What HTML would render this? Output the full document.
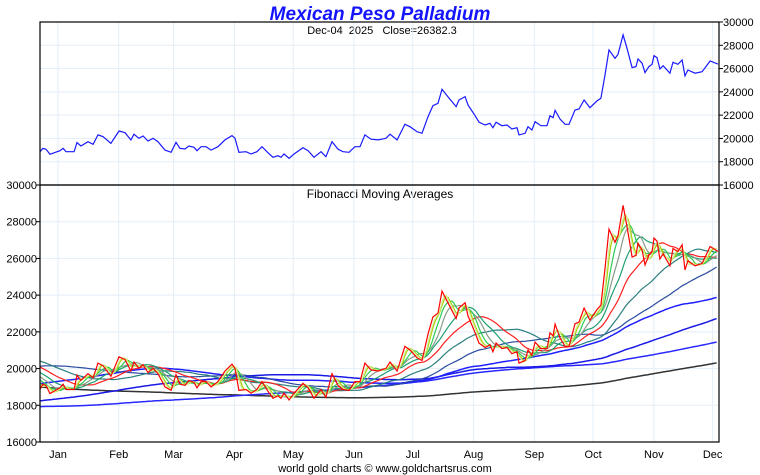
<!DOCTYPE html>
<html><head><meta charset="utf-8"><style>
html,body{margin:0;padding:0;background:#fff;}
svg{display:block;font-family:"Liberation Sans",sans-serif;}
</style></head><body>
<svg id="chart" width="760" height="475" viewBox="0 0 760 475">
<text x="380" y="20" text-anchor="middle" font-size="19" font-weight="bold" font-style="italic" fill="#1414ff">Mexican Peso Palladium</text>
<text x="382" y="34" text-anchor="middle" font-size="11" fill="#000" xml:space="preserve">Dec-04  2025   Close=26382.3</text>
<text x="380" y="198" text-anchor="middle" font-size="12" fill="#000">Fibonacci Moving Averages</text>
<text x="385" y="472" text-anchor="middle" font-size="11" fill="#000">world gold charts © www.goldchartsrus.com</text>
<g id="grid"></g>
<defs>
<clipPath id="clipTop"><rect x="40" y="22" width="679" height="163"/></clipPath>
<clipPath id="clipBot"><rect x="40" y="185" width="679" height="257"/></clipPath>
</defs>
<g id="marks"></g>
<g id="axes"></g>
</svg>
<script>
// Data: day offset from Jan 1 2025, and closes (MXN/oz). Negative days before -9.2 = history.
const days = [-560,-500,-440,-380,-340,-300,-270,-240,-210,-180,-150,-120,-90,-75,-60,-45,-30,-20,-12,
-9.2,-7.7,-6.1,-4.1,-1.5,1,2.6,4.1,8.2,9.7,11.7,15.3,17.9,20.4,23,27,31.1,34.2,37.2,38.8,41.3,43.4,45.9,48.5,51,54.6,57.7,60.2,62.2,64.8,66.8,69.4,70.9,73,75.5,78.1,81.6,85.2,88.8,90.3,92.3,95.9,98.5,101.5,104.1,107.1,109.7,112.2,113.8,115.3,117.9,120.4,125,127.6,130.6,134.2,136.7,139.8,142.9,145.4,148.5,151.5,154.1,156.6,159.7,163.3,167.3,169.4,173,177,179.6,183.2,185.7,188.8,191.3,193.9,195.9,198.5,203.1,204.6,207.7,209.2,212.8,214.8,217.9,220.4,221.9,223.5,226.5,229.1,231.6,234.2,235.2,238.3,239.8,241.8,243.4,246.4,249.5,251,252.6,253.6,256.1,258.7,260.7,263.8,265.8,268.4,271.4,275,277,279.1,281.1,284.2,285.7,288.3,290.3,292.9,294.9,295.9,298,299.5,301.5,303.1,304.1,305.6,307.1,308.7,312.2,313.8,316.3,318.4,319.9,321.4,325,328.6,332.7,336.7];
const closes = [23000,22000,21000,19500,18500,17800,17500,16800,16500,16500,17000,17300,18200,19200,20800,21000,20500,20000,19500,
18860,19150,19070,18640,18800,18950,19150,18860,18860,19640,19350,19720,19500,20300,20150,19580,20640,20490,19870,20360,20010,20210,19780,20010,19720,19000,18810,19670,19150,19090,19350,19240,18950,19290,19290,19000,19290,19870,20240,20010,18810,18860,18660,18860,19290,18770,18380,18520,18380,18660,18290,18660,19200,18950,18380,18860,18430,19720,19070,18860,18810,19290,19290,20300,19930,19870,20010,20360,19870,21210,21010,20580,20440,21870,22810,23020,24220,23670,22730,23300,23590,22870,21950,21390,21150,21300,20920,21390,21090,21150,20810,20920,20300,20440,21010,20720,21440,21090,21090,21950,21780,22420,21670,21210,21210,22440,22530,23300,22640,23220,23450,25450,27600,26880,27230,28890,27740,26080,26170,26830,26460,25650,26170,26370,27110,26940,25970,26250,25600,26540,26370,26740,25370,25880,25600,25730,26650,26382];
const maPeriods = [2,3,5,8,13,21,34,55,89,144,233,377];
const maColors = ["#d2f09a","#a8cc00","#2ecc55","#8a9a8a","#1f9f70","#ff2020","#2a7f7f","#2a4ca0","#2020ff","#1a1ae8","#2828ff","#333333"];
const monthLabels = ["Jan","Feb","Mar","Apr","May","Jun","Jul","Aug","Sep","Oct","Nov","Dec"];
const monthDays = [0,31,59,90,120,151,181,212,243,273,304,334];
const yTicks = [16000,18000,20000,22000,24000,26000,28000,30000];

const NS="http://www.w3.org/2000/svg";
const X0=40,X1=719;
const xS=d=>58+d*1.96;
const yTop=v=>185-(v-16000)*(163/14000);
const yBot=v=>442-(v-16000)*(257/14000);
function mk(tag,attrs,parent){const e=document.createElementNS(NS,tag);for(const k in attrs)e.setAttribute(k,attrs[k]);parent.appendChild(e);return e;}
const grid=document.getElementById('grid'),marks=document.getElementById('marks'),axes=document.getElementById('axes');

monthDays.forEach((d,i)=>{
  const x=xS(d);
  const l=mk('line',{x1:x,x2:x,y1:22,y2:442,stroke:'#e3eef8','stroke-width':1},grid);
  
  
  const t=mk('text',{x:x,y:458,'text-anchor':'middle','font-size':11,fill:'#000'},axes);
  t.textContent=monthLabels[i];
  
  
});
yTicks.forEach(v=>{
  let y=yTop(v);
  if(v>16000&&v<30000){const g=mk('line',{x1:X0,x2:X1,y1:y,y2:y,stroke:'#e3eef8'},grid);
  
  }
  mk('line',{x1:X1,x2:X1+4,y1:y,y2:y,stroke:'#000'},axes);
  const t=mk('text',{x:X1+4,y:y+4,'font-size':11,fill:'#000'},axes);t.textContent=v;
  
  
  y=yBot(v);
  if(v>16000&&v<30000){const g=mk('line',{x1:X0,x2:X1,y1:y,y2:y,stroke:'#e3eef8'},grid);
  
  }
  mk('line',{x1:X0-4,x2:X0,y1:y,y2:y,stroke:'#000'},axes);
  const t2=mk('text',{x:X0-3,y:y+4,'font-size':11,'text-anchor':'end',fill:'#000'},axes);t2.textContent=v;
  
  
});
const fr1=mk('rect',{x:X0,y:22,width:X1-X0,height:163,fill:'none',stroke:'#000','stroke-width':1.2},axes);


const fr2=mk('rect',{x:X0,y:185,width:X1-X0,height:257,fill:'none',stroke:'#000','stroke-width':1.2},axes);



const start=Math.ceil(days[0]),end=Math.floor(days[days.length-1]);
const daily=[];let j=0;
for(let d=start;d<=end;d++){while(j<days.length-2&&days[j+1]<d)j++;const t=(d-days[j])/(days[j+1]-days[j]);daily.push(closes[j]+(closes[j+1]-closes[j])*Math.max(0,Math.min(1,t)));}
const visStart=-9.2;

function pathFrom(pts){return pts.map((p,i)=>(i?'L':'M')+p[0].toFixed(1)+','+p[1].toFixed(1)).join('');}

for(let k=maPeriods.length-1;k>=0;k--){
  const w=Math.max(1,Math.round(maPeriods[k]*7/5));
  const pts=[];
  for(let i=0;i<daily.length;i++){const d=start+i;if(d<visStart-1)continue;
    let s=0,n=0;for(let q=Math.max(0,i-w+1);q<=i;q++){s+=daily[q];n++;}
    pts.push([xS(d),yBot(s/n)]);}
  const p=mk('path',{d:pathFrom(pts),fill:'none',stroke:maColors[k],'stroke-width':k>=8?1.5:1.2,'clip-path':'url(#clipBot)'},marks);
  
  
}
const vis=[];days.forEach((d,i)=>{if(d>=visStart)vis.push(i);});
const pb=mk('path',{d:pathFrom(vis.map(i=>[xS(days[i]),yBot(closes[i])])),fill:'none',stroke:'#ff0000','stroke-width':1.2,'clip-path':'url(#clipBot)'},marks);


const pt=mk('path',{d:pathFrom(vis.map(i=>[xS(days[i]),yTop(closes[i])])),fill:'none',stroke:'#1a1aff','stroke-width':1.2,'clip-path':'url(#clipTop)'},marks);


</script>
</body></html>
